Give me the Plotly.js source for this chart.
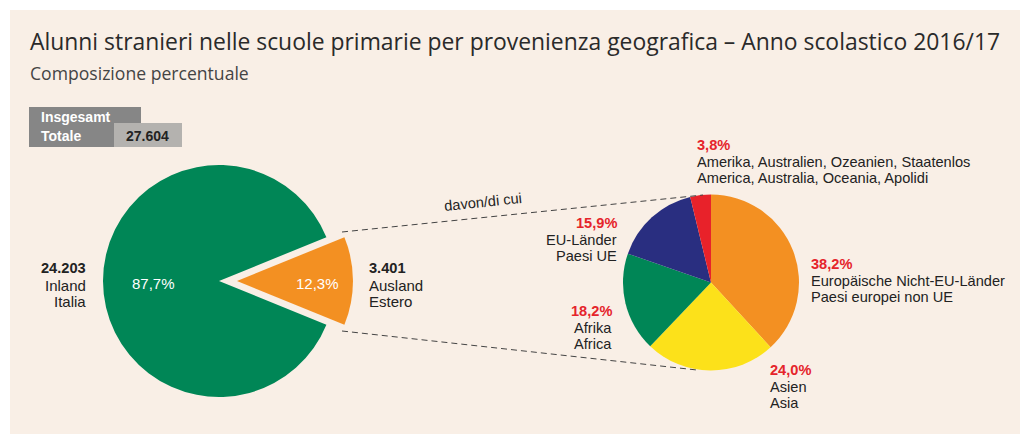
<!DOCTYPE html>
<html>
<head>
<meta charset="utf-8">
<script src="https://cdn.plot.ly/plotly-3.0.1.min.js"></script>
<style>html,body{margin:0;padding:0;background:#fff;}#chart{width:1020px;height:434px;}</style>
</head>
<body>
<div id="chart"></div>
<script>
// ---- data ----
const mainLabels = ["Ausland / Estero", "Inland / Italia"];
const mainValues = [3401, 24203];
const mainPct = ["12,3%", "87,7%"];
const mainNumbers = ["3.401", "24.203"];
const mainNames = [["Ausland", "Estero"], ["Inland", "Italia"]];
const total = "27.604";

const subLabels = ["Europäische Nicht-EU-Länder / Paesi europei non UE", "Asien / Asia", "Afrika / Africa", "EU-Länder / Paesi UE", "Amerika, Australien, Ozeanien, Staatenlos / America, Australia, Oceania, Apolidi"];
const subValues = [38.2, 24.0, 18.2, 15.9, 3.8];
const subPct = ["38,2%", "24,0%", "18,2%", "15,9%", "3,8%"];
const subNames = [
  ["Europäische Nicht-EU-Länder", "Paesi europei non UE"],
  ["Asien", "Asia"],
  ["Afrika", "Africa"],
  ["EU-Länder", "Paesi UE"],
  ["Amerika, Australien, Ozeanien, Staatenlos", "America, Australia, Oceania, Apolidi"]
];

// ---- layout helpers (pixel -> paper) ----
const W = 1020, H = 434;
const px = x => x / W;
const py = y => 1 - y / H;

const ORANGE = "#f39022", GREEN = "#008656", YELLOW = "#fce11a", NAVY = "#292e80", RED = "#e8222a";
const TXT = "#222222", REDTXT = "#e5242b";
const FONT = "Liberation Sans, Arial, sans-serif";
const FS = 14.6;

// big pie: center (219,281), r 116, pull 0.155
const bigPull = 0.155, bigR = 116, bigCx = 219, bigCy = 281;
const bigHalf = bigR * (1 + bigPull);
const orangeFrac = mainValues[0] / (mainValues[0] + mainValues[1]);
const bigPie = {
  type: "pie", values: mainValues, labels: mainLabels, sort: false, direction: "clockwise",
  rotation: 90 - orangeFrac * 180,
  pull: [bigPull, 0],
  marker: {colors: [ORANGE, GREEN], line: {width: 0}},
  textinfo: "none", hoverinfo: "label+value",
  domain: {x: [px(bigCx - bigHalf), px(bigCx + bigHalf)], y: [py(bigCy + bigHalf), py(bigCy - bigHalf)]},
  showlegend: false
};

// small pie: center (711,282.5), r 88
const smR = 88, smCx = 711, smCy = 282.5;
const smallPie = {
  type: "pie", values: subValues, labels: subLabels, sort: false, direction: "clockwise", rotation: 0,
  marker: {colors: [ORANGE, YELLOW, GREEN, NAVY, RED], line: {width: 0}},
  textinfo: "none", hoverinfo: "label+value",
  domain: {x: [px(smCx - smR), px(smCx + smR)], y: [py(smCy + smR), py(smCy - smR)]},
  showlegend: false
};

const ann = [];
function txt(x, y, text, opts) {
  ann.push(Object.assign({xref: "paper", yref: "paper", x: px(x), y: py(y), text: text, showarrow: false,
    borderpad: 0, borderwidth: 0,
    xanchor: "left", yanchor: "middle", font: {family: FONT, size: FS, color: TXT}}, opts || {}));
}
// subtitle
txt(30, 73, "Composizione percentuale", {font: {family: "Open Sans, sans-serif", size: 17.6, color: "#444"}});
// total box
txt(41, 117, "<b>Insgesamt</b>", {font: {family: FONT, size: 14, color: "#fff"}});
txt(41, 136, "<b>Totale</b>", {font: {family: FONT, size: 14, color: "#fff"}});
txt(169, 136, "<b>" + total + "</b>", {xanchor: "right", font: {family: FONT, size: 14, color: TXT}});
// big pie labels
txt(153, 283, mainPct[1], {xanchor: "center", font: {family: FONT, size: 15, color: "#fff"}});
txt(317, 283, mainPct[0], {xanchor: "center", font: {family: FONT, size: 15, color: "#fff"}});
txt(86, 268, "<b>" + mainNumbers[1] + "</b>", {xanchor: "right"});
txt(86, 285, mainNames[1][0], {xanchor: "right", font: {family: FONT, size: 15, color: TXT}});
txt(86, 301, mainNames[1][1], {xanchor: "right", font: {family: FONT, size: 15, color: TXT}});
txt(369, 268, "<b>" + mainNumbers[0] + "</b>");
txt(369, 285, mainNames[0][0], {font: {family: FONT, size: 15, color: TXT}});
txt(369, 301, mainNames[0][1], {font: {family: FONT, size: 15, color: TXT}});
// davon / di cui
txt(483, 202, "davon/di cui", {xanchor: "center", textangle: -6});
// small pie labels: [x, y of pct, anchor]
const subPos = [[811, 264, "left"], [770, 370, "left"], [612, 311, "right"], [617, 223, "right"], [697, 145, "left"]];
subPos.forEach((p, i) => {
  txt(p[0], p[1], "<b>" + subPct[i] + "</b>", {xanchor: p[2], font: {family: FONT, size: FS, color: REDTXT}});
  txt(p[0], p[1] + 17, subNames[i][0], {xanchor: p[2]});
  txt(p[0], p[1] + 33, subNames[i][1], {xanchor: p[2]});
});

const shapes = [
  {type: "rect", xref: "paper", yref: "paper", x0: px(10), x1: px(1020), y0: py(434), y1: py(10), fillcolor: "#f9efe6", line: {width: 0}, layer: "below"},
  {type: "rect", xref: "paper", yref: "paper", x0: px(29), x1: px(141), y0: py(147), y1: py(107), fillcolor: "#868686", line: {width: 0}, layer: "below"},
  {type: "rect", xref: "paper", yref: "paper", x0: px(114), x1: px(182), y0: py(147), y1: py(123), fillcolor: "#b4b2af", line: {width: 0}, layer: "below"},
  {type: "line", xref: "paper", yref: "paper", x0: px(342), y0: py(232), x1: px(703), y1: py(195), line: {color: "#444", width: 1, dash: "6px,4px"}},
  {type: "line", xref: "paper", yref: "paper", x0: px(342), y0: py(331), x1: px(697), y1: py(370), line: {color: "#444", width: 1, dash: "6px,4px"}}
];

const layout = {
  width: W, height: H,
  margin: {l: 0, r: 0, t: 0, b: 0},
  paper_bgcolor: "#ffffff", plot_bgcolor: "rgba(0,0,0,0)",
  title: {text: "Alunni stranieri nelle scuole primarie per provenienza geografica – Anno scolastico 2016/17",
    x: px(30), xanchor: "left", xref: "paper", y: py(42), yanchor: "middle", yref: "paper",
    font: {family: "Open Sans, sans-serif", size: 22.9, color: "#2a2a2a"}},
  annotations: ann, shapes: shapes, showlegend: false
};

Plotly.newPlot("chart", [bigPie, smallPie], layout, {displayModeBar: false, staticPlot: true});
</script>
</body>
</html>
